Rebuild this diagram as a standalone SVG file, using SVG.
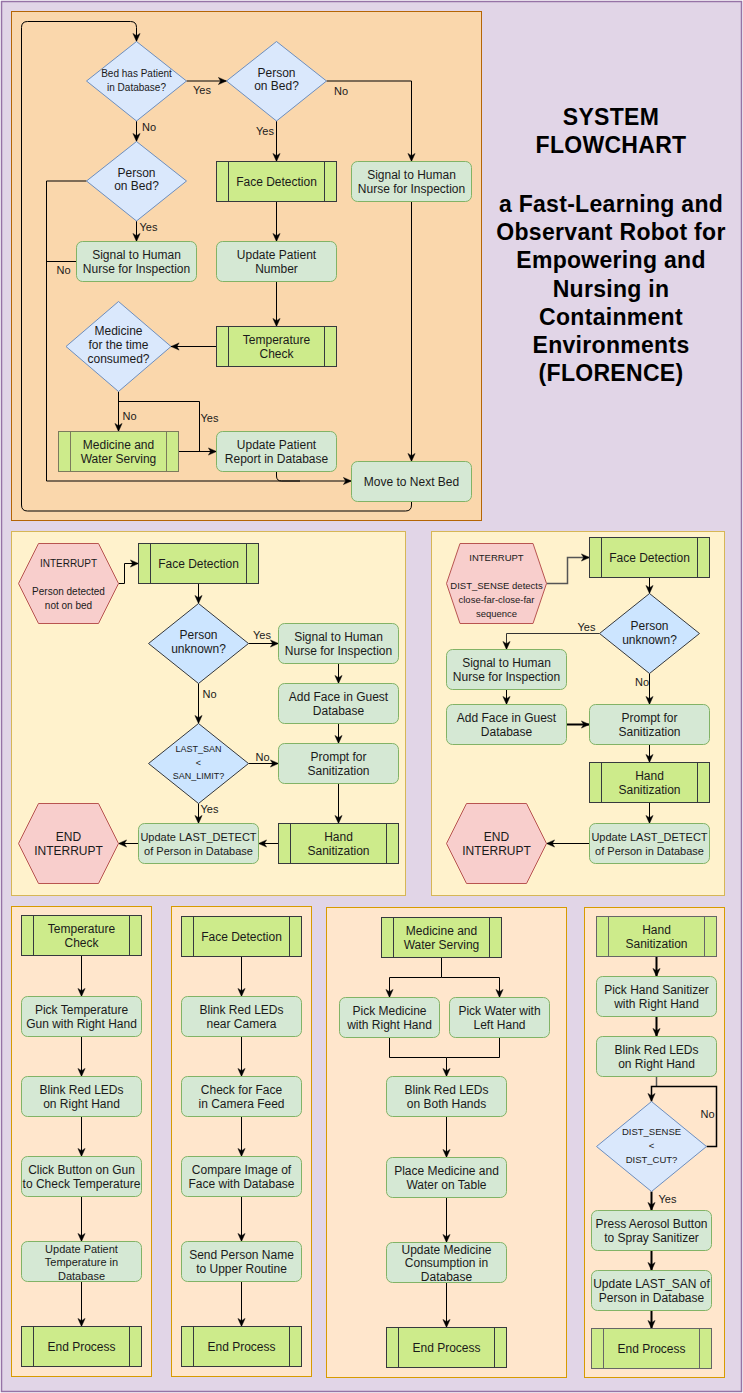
<svg xmlns="http://www.w3.org/2000/svg" width="743" height="1393" viewBox="0 0 743 1393">
<style>
.t{font-family:"Liberation Sans",Arial,sans-serif;font-size:12px;fill:#1a1a1a;text-anchor:middle}
.s11{font-size:11px}
.s10{font-size:10px}
.s9{font-size:9.5px}
.lbl{font-family:"Liberation Sans",Arial,sans-serif;font-size:11px;fill:#1a1a1a}
.title{font-family:"Liberation Sans",Arial,sans-serif;font-size:23px;letter-spacing:0.3px;font-weight:bold;fill:#000;text-anchor:middle}
.g{fill:#d5e8d4;stroke:#82b366;stroke-width:1}
.p{fill:#cdeb8b;stroke:#36393d;stroke-width:1}
.pl{fill:none;stroke:#36393d;stroke-width:1}
.d{fill:#dae8fc;stroke:#6c8ebf;stroke-width:1}
.d2{fill:#cce5ff;stroke:#36393d;stroke-width:1}
.h{fill:#f8cecc;stroke:#b85450;stroke-width:1}
.c{fill:none;stroke:#000;stroke-width:1}
.a{fill:none;stroke:#000;stroke-width:1;marker-end:url(#arr)}
.a2{fill:none;stroke:#000;stroke-width:2;marker-end:url(#arr)}
</style>
<defs>
<marker id="arr" viewBox="0 0 10 10" refX="9.5" refY="5" markerWidth="9" markerHeight="9" markerUnits="userSpaceOnUse" orient="auto">
<path d="M0.5,1 L9.5,5 L0.5,9 L3,5 z" fill="#000" stroke="#000" stroke-width="0.5"/>
</marker>
</defs>

<!-- backgrounds -->
<rect x="1.5" y="1.5" width="740" height="1390" fill="#e1d5e7" stroke="#9673a6" stroke-width="1.5"/>
<rect x="11.5" y="11.5" width="470" height="509" fill="#fad7ac" stroke="#b46504"/>
<rect x="11.5" y="531.5" width="394" height="364" fill="#fff2cc" stroke="#d6b656"/>
<rect x="431.5" y="531.5" width="293" height="364" fill="#fff2cc" stroke="#d6b656"/>
<rect x="11.5" y="906.5" width="140" height="470" fill="#ffe6cc" stroke="#d79b00"/>
<rect x="171.5" y="906.5" width="140" height="470" fill="#ffe6cc" stroke="#d79b00"/>
<rect x="326.5" y="907.5" width="240" height="470" fill="#ffe6cc" stroke="#d79b00"/>
<rect x="584.5" y="907.5" width="140" height="470" fill="#ffe6cc" stroke="#d79b00"/>

<g id="title">
<text class="title"><tspan x="611" y="125">SYSTEM</tspan><tspan x="611" y="153">FLOWCHART</tspan><tspan x="611" y="212">a Fast-Learning and</tspan><tspan x="611" y="240">Observant Robot for</tspan><tspan x="611" y="268">Empowering and</tspan><tspan x="611" y="297">Nursing in</tspan><tspan x="611" y="325">Containment</tspan><tspan x="611" y="353">Environments</tspan><tspan x="611" y="381">(FLORENCE)</tspan></text>
</g>

<!-- connectors -->
<g id="connectors">
<!-- top panel -->
<path class="a" d="M186.5,81 L226.5,81"/>
<path class="a" d="M326.5,81 L411.5,81 L411.5,161.5"/>
<path class="a" d="M276.5,121 L276.5,161.5"/>
<path class="a" d="M136.5,121 L136.5,141.5"/>
<path class="a" d="M136.5,221 L136.5,241.5"/>
<path class="a" d="M86.5,181 L46.5,181 L46.5,481 L351.5,481"/>
<path class="c" d="M76.5,261.5 L46.5,261.5"/>
<path class="a" d="M276.5,201.5 L276.5,241.5"/>
<path class="a" d="M276.5,281.5 L276.5,326.5"/>
<path class="a" d="M216.5,346.5 L171,346.5"/>
<path class="a" d="M118.5,391.5 L118.5,431.5"/>
<path class="c" d="M118.5,401.5 L199.5,401.5 L199.5,451.5"/>
<path class="a" d="M178.5,451.5 L216.5,451.5"/>
<path class="c" d="M276.5,471.5 L276.5,476 Q276.5,481 281.5,481 L300,481"/>
<path class="a" d="M411.5,201.5 L411.5,461.5"/>
<path class="a" d="M411.5,501.5 L411.5,505 Q411.5,511 405.5,511 L27.5,511 Q21.5,511 21.5,505 L21.5,27.5 Q21.5,21.5 27.5,21.5 L130.5,21.5 Q136.5,21.5 136.5,27.5 L136.5,41.5"/>
<!-- middle left -->
<path class="a" d="M118.5,583.5 L124.5,583.5 L124.5,563.5 L138.5,563.5"/>
<path class="a" d="M198.5,583.5 L198.5,603.5"/>
<path class="a" d="M248.5,643.5 L278.5,643.5"/>
<path class="a" d="M338.5,663.5 L338.5,683.5"/>
<path class="a" d="M338.5,723.5 L338.5,743.5"/>
<path class="a" d="M338.5,783.5 L338.5,823.5"/>
<path class="a" d="M198.5,683.5 L198.5,723.5"/>
<path class="a" d="M248.5,763.5 L278.5,763.5"/>
<path class="a" d="M198.5,803.5 L198.5,823.5"/>
<path class="a" d="M278.5,843.5 L258.5,843.5"/>
<path class="a" d="M138.5,843.5 L118.5,843.5"/>
<!-- middle right -->
<path class="a" style="stroke:#555;stroke-width:1.5" d="M546.5,583.5 L567.5,583.5 L567.5,557.5 L589.5,557.5"/>
<path class="a" d="M649.5,577.5 L649.5,593.5"/>
<path class="a" style="stroke:#333" d="M599.5,633.5 L506.5,633.5 L506.5,649.5"/>
<path class="a" d="M506.5,689.5 L506.5,704.5"/>
<path class="a2" d="M566.5,724.5 L589.5,724.5"/>
<path class="a" d="M649.5,673.5 L649.5,704.5"/>
<path class="a" d="M649.5,744.5 L649.5,762.5"/>
<path class="a" d="M649.5,802.5 L649.5,823.5"/>
<path class="a" d="M589.5,843.5 L546.5,843.5"/>
<!-- panel 1 -->
<path class="a" d="M81.5,955.5 L81.5,996.5"/>
<path class="a" d="M81.5,1036.5 L81.5,1076.5"/>
<path class="a" d="M81.5,1116.5 L81.5,1156.5"/>
<path class="a" d="M81.5,1196.5 L81.5,1241.5"/>
<path class="a" d="M81.5,1281.5 L81.5,1326.5"/>
<!-- panel 2 -->
<path class="a" d="M241.5,956.5 L241.5,996.5"/>
<path class="a" d="M241.5,1036.5 L241.5,1076.5"/>
<path class="a" d="M241.5,1116.5 L241.5,1156.5"/>
<path class="a" d="M241.5,1196.5 L241.5,1241.5"/>
<path class="a" d="M241.5,1281.5 L241.5,1326.5"/>
<!-- panel 3 -->
<path class="a" d="M441.5,957.5 L441.5,977.5 L389.5,977.5 L389.5,997.5"/>
<path class="a" d="M441.5,977.5 L499.5,977.5 L499.5,997.5"/>
<path class="a" d="M389.5,1037.5 L389.5,1057.5 L446.5,1057.5 L446.5,1076.5"/>
<path class="c" d="M499.5,1037.5 L499.5,1057.5 L446.5,1057.5"/>
<path class="a" d="M446.5,1116.5 L446.5,1157.5"/>
<path class="a" d="M446.5,1197.5 L446.5,1242.5"/>
<path class="a" d="M446.5,1282.5 L446.5,1327.5"/>
<!-- panel 4 -->
<path class="a2" d="M656.5,956.5 L656.5,976.5"/>
<path class="a2" d="M656.5,1016.5 L656.5,1036.5"/>
<path class="c" style="stroke:#555;stroke-width:1.5" d="M656.5,1076.5 L656.5,1086.5"/>
<path class="a2" style="stroke-width:1.5" d="M706.5,1146.5 L716.5,1146.5 L716.5,1086.5 L651.5,1086.5 L651.5,1101.5"/>
<path class="a2" d="M651.5,1191.5 L651.5,1210.5"/>
<path class="a2" d="M651.5,1250.5 L651.5,1270.5"/>
<path class="a2" d="M651.5,1310.5 L651.5,1328.5"/>
</g>

<!-- edge labels -->
<g id="edge-labels">
<text class="lbl" x="193" y="94">Yes</text>
<text class="lbl" x="334" y="95">No</text>
<text class="lbl" x="274" y="135" text-anchor="end">Yes</text>
<text class="lbl" x="142" y="131">No</text>
<text class="lbl" x="139.5" y="231">Yes</text>
<text class="lbl" x="56.5" y="274">No</text>
<text class="lbl" x="122.5" y="420">No</text>
<text class="lbl" x="200.5" y="422">Yes</text>
<text class="lbl" x="253" y="639">Yes</text>
<text class="lbl" x="202.5" y="698">No</text>
<text class="lbl" x="255.5" y="761">No</text>
<text class="lbl" x="200.5" y="813">Yes</text>
<text class="lbl" x="577.5" y="630.5">Yes</text>
<text class="lbl" x="635" y="685.5">No</text>
<text class="lbl" x="700.5" y="1118">No</text>
<text class="lbl" x="658.5" y="1203">Yes</text>
</g>

<!-- top panel nodes -->
<g id="d-bed-patient">
<polygon class="d" points="136.5,41.5 186.5,81 136.5,121 86.5,81"/>
<text class="t s10"><tspan x="136.5" y="77.3">Bed has Patient</tspan><tspan x="136.5" y="91.3">in Database?</tspan></text>
</g>
<g id="d-person-on-bed-1">
<polygon class="d" points="276.5,41.5 326.5,81 276.5,121 226.5,81"/>
<text class="t"><tspan x="276.5" y="76.6">Person</tspan><tspan x="276.5" y="90.3">on Bed?</tspan></text>
</g>
<g id="d-person-on-bed-2">
<polygon class="d" points="136.5,141.5 186.5,181 136.5,221 86.5,181"/>
<text class="t"><tspan x="136.5" y="177">Person</tspan><tspan x="136.5" y="190.3">on Bed?</tspan></text>
</g>
<g id="p-face-detection-top">
<rect class="p" x="216.5" y="161.5" width="120" height="40"/>
<path class="pl" d="M228.5,161.5 V201.5 M324.5,161.5 V201.5"/>
<text class="t" x="276.5" y="185.8">Face Detection</text>
</g>
<g id="n-signal-top-right">
<rect class="g" x="351.5" y="161.5" width="120" height="40" rx="6"/>
<text class="t"><tspan x="411.5" y="179">Signal to Human</tspan><tspan x="411.5" y="193">Nurse for Inspection</tspan></text>
</g>
<g id="n-signal-top-left">
<rect class="g" x="76.5" y="241.5" width="120" height="40" rx="6"/>
<text class="t"><tspan x="136.5" y="259">Signal to Human</tspan><tspan x="136.5" y="273">Nurse for Inspection</tspan></text>
</g>
<g id="n-update-patient-number">
<rect class="g" x="216.5" y="241.5" width="120" height="40" rx="6"/>
<text class="t"><tspan x="276.5" y="259">Update Patient</tspan><tspan x="276.5" y="273">Number</tspan></text>
</g>
<g id="p-temperature-check-top">
<rect class="p" x="216.5" y="326.5" width="120" height="40"/>
<path class="pl" d="M228.5,326.5 V366.5 M324.5,326.5 V366.5"/>
<text class="t"><tspan x="276.5" y="344">Temperature</tspan><tspan x="276.5" y="358">Check</tspan></text>
</g>
<g id="d-medicine-time">
<polygon class="d" points="118.5,301.5 171,346.5 118.5,391.5 66,346.5"/>
<text class="t"><tspan x="118.5" y="335">Medicine</tspan><tspan x="118.5" y="349">for the time</tspan><tspan x="118.5" y="362.6">consumed?</tspan></text>
</g>
<g id="p-medicine-water-top">
<rect class="p" style="stroke:#7b7a5c" x="58.5" y="431.5" width="120" height="40"/>
<path class="pl" style="stroke:#7b7a5c" d="M70.5,431.5 V471.5 M166.5,431.5 V471.5"/>
<text class="t"><tspan x="118.5" y="449">Medicine and</tspan><tspan x="118.5" y="463">Water Serving</tspan></text>
</g>
<g id="n-update-report">
<rect class="g" x="216.5" y="431.5" width="120" height="40" rx="6"/>
<text class="t"><tspan x="276.5" y="449">Update Patient</tspan><tspan x="276.5" y="463">Report in Database</tspan></text>
</g>
<g id="n-move-next-bed">
<rect class="g" x="351.5" y="461.5" width="120" height="40" rx="6"/>
<text class="t" x="411.5" y="485.8">Move to Next Bed</text>
</g>

<!-- middle left nodes -->
<g id="h-interrupt-left">
<polygon class="h" points="38.5,543.5 98.5,543.5 118.5,583.5 98.5,623.5 38.5,623.5 18.5,583.5"/>
<text class="t s10"><tspan x="68.5" y="567.3">INTERRUPT</tspan><tspan x="68.5" y="595.3">Person detected</tspan><tspan x="68.5" y="609.3">not on bed</tspan></text>
</g>
<g id="p-face-detection-ml">
<rect class="p" x="138.5" y="543.5" width="120" height="40"/>
<path class="pl" d="M150.5,543.5 V583.5 M246.5,543.5 V583.5"/>
<text class="t" x="198.5" y="567.8">Face Detection</text>
</g>
<g id="d-person-unknown-ml">
<polygon class="d2" points="198.5,603.5 248.5,643.5 198.5,683.5 148.5,643.5"/>
<text class="t"><tspan x="198.5" y="639.3">Person</tspan><tspan x="198.5" y="652.6">unknown?</tspan></text>
</g>
<g id="n-signal-ml">
<rect class="g" x="278.5" y="623.5" width="120" height="40" rx="6"/>
<text class="t"><tspan x="338.5" y="641">Signal to Human</tspan><tspan x="338.5" y="655">Nurse for Inspection</tspan></text>
</g>
<g id="n-add-face-ml">
<rect class="g" x="278.5" y="683.5" width="120" height="40" rx="6"/>
<text class="t"><tspan x="338.5" y="701">Add Face in Guest</tspan><tspan x="338.5" y="715">Database</tspan></text>
</g>
<g id="d-last-san">
<polygon class="d2" points="198.5,723.5 248.5,763.5 198.5,803.5 148.5,763.5"/>
<text class="t s9" style="font-size:9px"><tspan x="198.5" y="751.5">LAST_SAN</tspan><tspan x="198.5" y="765.5">&lt;</tspan><tspan x="198.5" y="779.3">SAN_LIMIT?</tspan></text>
</g>
<g id="n-prompt-ml">
<rect class="g" x="278.5" y="743.5" width="120" height="40" rx="6"/>
<text class="t"><tspan x="338.5" y="761">Prompt for</tspan><tspan x="338.5" y="775">Sanitization</tspan></text>
</g>
<g id="p-hand-san-ml">
<rect class="p" x="278.5" y="823.5" width="120" height="40"/>
<path class="pl" d="M290.5,823.5 V863.5 M386.5,823.5 V863.5"/>
<text class="t"><tspan x="338.5" y="841">Hand</tspan><tspan x="338.5" y="855">Sanitization</tspan></text>
</g>
<g id="n-update-detect-ml">
<rect class="g" x="138.5" y="823.5" width="120" height="40" rx="6"/>
<text class="t s11"><tspan x="198.5" y="841">Update LAST_DETECT</tspan><tspan x="198.5" y="855">of Person in Database</tspan></text>
</g>
<g id="h-end-ml">
<polygon class="h" points="38.5,803.5 98.5,803.5 118.5,843.5 98.5,883.5 38.5,883.5 18.5,843.5"/>
<text class="t"><tspan x="68.5" y="841">END</tspan><tspan x="68.5" y="855">INTERRUPT</tspan></text>
</g>

<!-- middle right nodes -->
<g id="h-interrupt-right">
<polygon class="h" points="460,543.5 533,543.5 546.5,583.5 533,623.5 460,623.5 446.5,583.5"/>
<text class="t s9"><tspan x="496.5" y="560.7">INTERRUPT</tspan><tspan x="496.5" y="589">DIST_SENSE detects</tspan><tspan x="496.5" y="602.5">close-far-close-far</tspan><tspan x="496.5" y="616.7">sequence</tspan></text>
</g>
<g id="p-face-detection-mr">
<rect class="p" x="589.5" y="537.5" width="120" height="40"/>
<path class="pl" d="M601.5,537.5 V577.5 M697.5,537.5 V577.5"/>
<text class="t" x="649.5" y="561.8">Face Detection</text>
</g>
<g id="d-person-unknown-mr">
<polygon class="d2" points="649.5,593.5 699.5,633.5 649.5,673.5 599.5,633.5"/>
<text class="t"><tspan x="649.5" y="630">Person</tspan><tspan x="649.5" y="644.3">unknown?</tspan></text>
</g>
<g id="n-signal-mr">
<rect class="g" x="446.5" y="649.5" width="120" height="40" rx="6"/>
<text class="t"><tspan x="506.5" y="667">Signal to Human</tspan><tspan x="506.5" y="681">Nurse for Inspection</tspan></text>
</g>
<g id="n-add-face-mr">
<rect class="g" x="446.5" y="704.5" width="120" height="40" rx="6"/>
<text class="t"><tspan x="506.5" y="722">Add Face in Guest</tspan><tspan x="506.5" y="736">Database</tspan></text>
</g>
<g id="n-prompt-mr">
<rect class="g" x="589.5" y="704.5" width="120" height="40" rx="6"/>
<text class="t"><tspan x="649.5" y="722">Prompt for</tspan><tspan x="649.5" y="736">Sanitization</tspan></text>
</g>
<g id="p-hand-san-mr">
<rect class="p" x="589.5" y="762.5" width="120" height="40"/>
<path class="pl" d="M601.5,762.5 V802.5 M697.5,762.5 V802.5"/>
<text class="t"><tspan x="649.5" y="780">Hand</tspan><tspan x="649.5" y="794">Sanitization</tspan></text>
</g>
<g id="n-update-detect-mr">
<rect class="g" x="589.5" y="823.5" width="120" height="40" rx="6"/>
<text class="t s11"><tspan x="649.5" y="841">Update LAST_DETECT</tspan><tspan x="649.5" y="855">of Person in Database</tspan></text>
</g>
<g id="h-end-mr">
<polygon class="h" points="466.5,803.5 526.5,803.5 546.5,843.5 526.5,883.5 466.5,883.5 446.5,843.5"/>
<text class="t"><tspan x="496.5" y="841">END</tspan><tspan x="496.5" y="855">INTERRUPT</tspan></text>
</g>

<!-- panel 1: temperature check -->
<g id="p-temp-check">
<rect class="p" x="21.5" y="915.5" width="120" height="40"/>
<path class="pl" d="M33.5,915.5 V955.5 M129.5,915.5 V955.5"/>
<text class="t"><tspan x="81.5" y="933">Temperature</tspan><tspan x="81.5" y="947">Check</tspan></text>
</g>
<g id="n-pick-gun">
<rect class="g" x="21.5" y="996.5" width="120" height="40" rx="6"/>
<text class="t"><tspan x="81.5" y="1014">Pick Temperature</tspan><tspan x="81.5" y="1028">Gun with Right Hand</tspan></text>
</g>
<g id="n-blink-right-1">
<rect class="g" x="21.5" y="1076.5" width="120" height="40" rx="6"/>
<text class="t"><tspan x="81.5" y="1094">Blink Red LEDs</tspan><tspan x="81.5" y="1108">on Right Hand</tspan></text>
</g>
<g id="n-click-gun">
<rect class="g" x="21.5" y="1156.5" width="120" height="40" rx="6"/>
<text class="t"><tspan x="81.5" y="1174">Click Button on Gun</tspan><tspan x="81.5" y="1188">to Check Temperature</tspan></text>
</g>
<g id="n-update-temp">
<rect class="g" x="21.5" y="1241.5" width="120" height="40" rx="6"/>
<text class="t s11"><tspan x="81.5" y="1252.5">Update Patient</tspan><tspan x="81.5" y="1266.3">Temperature in</tspan><tspan x="81.5" y="1280.2">Database</tspan></text>
</g>
<g id="p-end-1">
<rect class="p" x="21.5" y="1326.5" width="120" height="40"/>
<path class="pl" d="M33.5,1326.5 V1366.5 M129.5,1326.5 V1366.5"/>
<text class="t" x="81.5" y="1350.8">End Process</text>
</g>

<!-- panel 2: face detection -->
<g id="p-face-det">
<rect class="p" x="181.5" y="916.5" width="120" height="40"/>
<path class="pl" d="M193.5,916.5 V956.5 M289.5,916.5 V956.5"/>
<text class="t" x="241.5" y="940.8">Face Detection</text>
</g>
<g id="n-blink-camera">
<rect class="g" x="181.5" y="996.5" width="120" height="40" rx="6"/>
<text class="t"><tspan x="241.5" y="1014">Blink Red LEDs</tspan><tspan x="241.5" y="1028">near Camera</tspan></text>
</g>
<g id="n-check-face">
<rect class="g" x="181.5" y="1076.5" width="120" height="40" rx="6"/>
<text class="t"><tspan x="241.5" y="1094">Check for Face</tspan><tspan x="241.5" y="1108">in Camera Feed</tspan></text>
</g>
<g id="n-compare">
<rect class="g" x="181.5" y="1156.5" width="120" height="40" rx="6"/>
<text class="t"><tspan x="241.5" y="1174">Compare Image of</tspan><tspan x="241.5" y="1188">Face with Database</tspan></text>
</g>
<g id="n-send-name">
<rect class="g" x="181.5" y="1241.5" width="120" height="40" rx="6"/>
<text class="t"><tspan x="241.5" y="1259">Send Person Name</tspan><tspan x="241.5" y="1273">to Upper Routine</tspan></text>
</g>
<g id="p-end-2">
<rect class="p" x="181.5" y="1326.5" width="120" height="40"/>
<path class="pl" d="M193.5,1326.5 V1366.5 M289.5,1326.5 V1366.5"/>
<text class="t" x="241.5" y="1350.8">End Process</text>
</g>

<!-- panel 3: medicine and water -->
<g id="p-med-water">
<rect class="p" x="381.5" y="917.5" width="120" height="40"/>
<path class="pl" d="M393.5,917.5 V957.5 M489.5,917.5 V957.5"/>
<text class="t"><tspan x="441.5" y="935">Medicine and</tspan><tspan x="441.5" y="949">Water Serving</tspan></text>
</g>
<g id="n-pick-medicine">
<rect class="g" x="339.5" y="997.5" width="100" height="40" rx="6"/>
<text class="t"><tspan x="389.5" y="1015">Pick Medicine</tspan><tspan x="389.5" y="1029">with Right Hand</tspan></text>
</g>
<g id="n-pick-water">
<rect class="g" x="449.5" y="997.5" width="100" height="40" rx="6"/>
<text class="t"><tspan x="499.5" y="1015">Pick Water with</tspan><tspan x="499.5" y="1029">Left Hand</tspan></text>
</g>
<g id="n-blink-both">
<rect class="g" x="386.5" y="1076.5" width="120" height="40" rx="6"/>
<text class="t"><tspan x="446.5" y="1094">Blink Red LEDs</tspan><tspan x="446.5" y="1108">on Both Hands</tspan></text>
</g>
<g id="n-place">
<rect class="g" x="386.5" y="1157.5" width="120" height="40" rx="6"/>
<text class="t"><tspan x="446.5" y="1175">Place Medicine and</tspan><tspan x="446.5" y="1189">Water on Table</tspan></text>
</g>
<g id="n-update-med">
<rect class="g" x="386.5" y="1242.5" width="120" height="40" rx="6"/>
<text class="t"><tspan x="446.5" y="1253.5">Update Medicine</tspan><tspan x="446.5" y="1267.3">Consumption in</tspan><tspan x="446.5" y="1281.2">Database</tspan></text>
</g>
<g id="p-end-3">
<rect class="p" x="386.5" y="1327.5" width="120" height="40"/>
<path class="pl" d="M398.5,1327.5 V1367.5 M494.5,1327.5 V1367.5"/>
<text class="t" x="446.5" y="1351.8">End Process</text>
</g>

<!-- panel 4: hand sanitization -->
<g id="p-hand-san">
<rect class="p" style="stroke:#666" x="596.5" y="916.5" width="120" height="40"/>
<path class="pl" style="stroke:#666" d="M608.5,916.5 V956.5 M704.5,916.5 V956.5"/>
<text class="t"><tspan x="656.5" y="934">Hand</tspan><tspan x="656.5" y="948">Sanitization</tspan></text>
</g>
<g id="n-pick-sanitizer">
<rect class="g" x="596.5" y="976.5" width="120" height="40" rx="6"/>
<text class="t"><tspan x="656.5" y="994">Pick Hand Sanitizer</tspan><tspan x="656.5" y="1008">with Right Hand</tspan></text>
</g>
<g id="n-blink-right-2">
<rect class="g" x="596.5" y="1036.5" width="120" height="40" rx="6"/>
<text class="t"><tspan x="656.5" y="1054">Blink Red LEDs</tspan><tspan x="656.5" y="1068">on Right Hand</tspan></text>
</g>
<g id="d-dist-sense">
<polygon class="d" points="651.5,1101.5 706.5,1146.5 651.5,1191.5 596.5,1146.5"/>
<text class="t s9"><tspan x="651.5" y="1135.2">DIST_SENSE</tspan><tspan x="651.5" y="1149.2">&lt;</tspan><tspan x="651.5" y="1162.8">DIST_CUT?</tspan></text>
</g>
<g id="n-press-aerosol">
<rect class="g" x="591.5" y="1210.5" width="120" height="40" rx="6"/>
<text class="t"><tspan x="651.5" y="1228">Press Aerosol Button</tspan><tspan x="651.5" y="1242">to Spray Sanitizer</tspan></text>
</g>
<g id="n-update-san">
<rect class="g" x="591.5" y="1270.5" width="120" height="40" rx="6"/>
<text class="t"><tspan x="651.5" y="1288">Update LAST_SAN of</tspan><tspan x="651.5" y="1302">Person in Database</tspan></text>
</g>
<g id="p-end-4">
<rect class="p" style="stroke:#666" x="591.5" y="1328.5" width="120" height="40"/>
<path class="pl" style="stroke:#666" d="M603.5,1328.5 V1368.5 M699.5,1328.5 V1368.5"/>
<text class="t" x="651.5" y="1352.8">End Process</text>
</g>
</svg>
